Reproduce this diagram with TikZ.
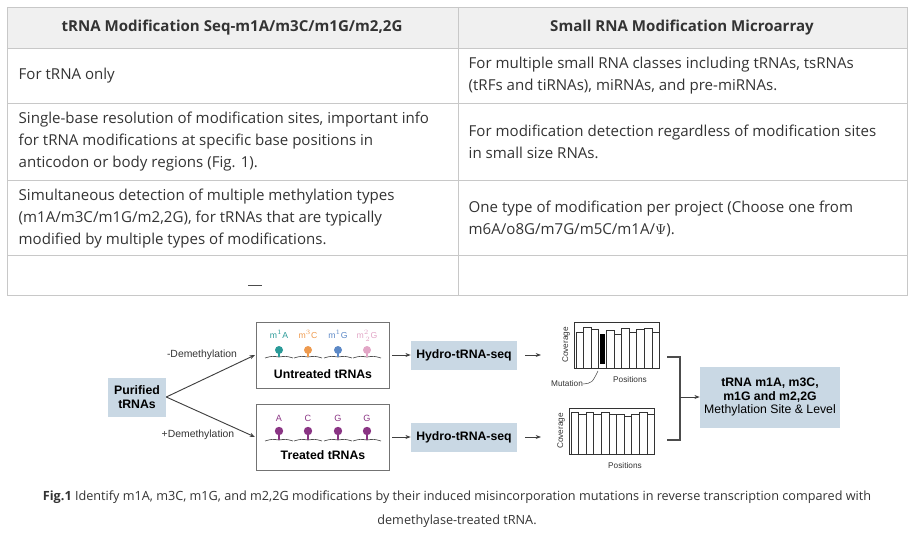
\documentclass[tikz,border=0pt]{standalone}
\usepackage{fontspec}
\setmainfont{Open Sans}
\newfontfamily\figfont{Liberation Sans}
\usetikzlibrary{arrows.meta}
\definecolor{gridc}{HTML}{C8C8C8}
\definecolor{headbg}{HTML}{F0F0F0}
\definecolor{boxbg}{HTML}{C9D8E4}
\definecolor{txt}{HTML}{333333}
\definecolor{cA}{HTML}{2A9A98}
\definecolor{cC}{HTML}{EE9A4E}
\definecolor{cG}{HTML}{5C88C6}
\definecolor{cGG}{HTML}{E2A6C6}
\definecolor{cT}{HTML}{8A3584}
\begin{document}
\begin{tikzpicture}[x=0.75pt,y=-0.75pt,
  cell/.style={anchor=west,align=left,text=txt,font=\fontsize{11.3}{16.5}\selectfont},
  head/.style={text=txt,font=\bfseries\fontsize{11.3}{16.5}\selectfont},
  fbox/.style={fill=boxbg,text=black,font=\figfont\bfseries\fontsize{9.2}{10.5}\selectfont,align=center,inner sep=0pt},
  lbl/.style={text=black!80,font=\figfont\fontsize{7.8}{9}\selectfont},
  tiny/.style={text=black!80,font=\figfont\fontsize{6.2}{7}\selectfont},
  arr/.style={-{Stealth[length=4pt]},black!75,line width=0.7pt}]
\useasboundingbox (0,0) rectangle (915,535);
% table
\fill[headbg] (7,7) rectangle (907,48);
\draw[gridc] (7,7) rectangle (907,295);
\foreach \y in {48,103,180,255} \draw[gridc] (7,\y) -- (907,\y);
\draw[gridc] (458,7) -- (458,295);
\node[head] (h1) at (232,28) {tRNA Modification Seq-m1A/m3C/m1G/m2,2G};
\node[head] (h2) at (682,28) {Small RNA Modification Microarray};
\node[cell] (a1) at (14,76) {For tRNA only};
\node[cell] (b1) at (464,76) {For multiple small RNA classes including tRNAs, tsRNAs\\(tRFs and tiRNAs), miRNAs, and pre-miRNAs.};
\node[cell] (a2) at (14,142) {Single-base resolution of modification sites, important info\\for tRNA modifications at specific base positions in\\anticodon or body regions (Fig. 1).};
\node[cell] (b2) at (464,142) {For modification detection regardless of modification sites\\in small size RNAs.};
\node[cell] (a3) at (14,219) {Simultaneous detection of multiple methylation types\\(m1A/m3C/m1G/m2,2G), for tRNAs that are typically\\modified by multiple types of modifications.};
\node[cell] (b3) at (464,219) {One type of modification per project (Choose one from\\m6A/o8G/m7G/m5C/m1A/$\Psi$).};
\draw[black!70] (248,285) -- (262,285);
% figure
\node[fbox,minimum width=58*0.75pt,minimum height=39*0.75pt] (pur) at (137,397) {Purified\\tRNAs};
\node[draw=black!55,minimum width=133*0.75pt,minimum height=66*0.75pt,inner sep=0pt] (unt) at (323,355) {};
\node[draw=black!55,minimum width=133*0.75pt,minimum height=66*0.75pt,inner sep=0pt] (trt) at (323,437) {};
\coordinate (u) at (255,355);
\coordinate (t) at (255,437);
\draw[arr] (pur.east) -- (u);
\draw[arr] (pur.east) -- (t);
\node[lbl] (dm) at (202,355) {-Demethylation};
\node[lbl] (pm) at (198,435) {+Demethylation};
% lollipops
\foreach \x/\c/\t [count=\i] in {279/cA/m$^1$A,308/cC/m$^3$C,338/cG/m$^1$G,367/cGG/m$^2_{\,2}$G}{
  \draw[black!70,line width=0.5pt] (\x-14,358) .. controls (\x-7,356) .. (\x,357) .. controls (\x+7,356) .. (\x+14,358);
  \draw[\c,line width=0.8pt] (\x,357) -- (\x,351);
  \fill[\c] (\x,350) circle (4);
  \node[font=\figfont\fontsize{6.5}{7}\selectfont,text=\c,anchor=base,inner ysep=0pt] (ul\i) at (\x,338) {\t};
}
\foreach \x/\t [count=\i] in {279/A,308/C,338/G,367/G}{
  \draw[black!70,line width=0.5pt] (\x-14,441) .. controls (\x-7,439) .. (\x,440) .. controls (\x+7,439) .. (\x+14,441);
  \draw[cT,line width=0.8pt] (\x,440) -- (\x,431);
  \fill[cT] (\x,431) circle (4.2);
  \node[font=\figfont\fontsize{6.8}{7}\selectfont,text=cT] (tl\i) at (\x,418) {\t};
}
\node[font=\figfont\bfseries\fontsize{9.2}{10}\selectfont] (untl) at (323,374) {Untreated tRNAs};
\node[font=\figfont\bfseries\fontsize{9.2}{10}\selectfont] (trtl) at (323,455) {Treated tRNAs};
\node[fbox,minimum width=106*0.75pt,minimum height=29*0.75pt] (hy1) at (464,355) {Hydro-tRNA-seq};
\node[fbox,minimum width=106*0.75pt,minimum height=29*0.75pt] (hy2) at (464,437) {Hydro-tRNA-seq};
\draw[arr] (392,355) -- (hy1.west);
\draw[arr] (392,437) -- (hy2.west);
% charts
\node[draw=black!80,minimum width=85*0.75pt,minimum height=46*0.75pt,inner sep=0pt,line width=0.7pt] (ch1) at (617,345) {};
\node[draw=black!80,minimum width=85*0.75pt,minimum height=46*0.75pt,inner sep=0pt,line width=0.7pt] (ch2) at (612,431) {};
\draw[arr] (525,355) -- (541,355);
\draw[arr] (525,437) -- (541,437);
\foreach \h [count=\i] in {7,2,4,0,5,9,3,7,4,3,7}{
  \pgfmathsetmacro\xx{576+(\i-1)*7.6}
  \ifnum\i=4
    \fill[black] (\xx+1,334) rectangle (\xx+6.6,364);
  \else
    \draw[black!80,line width=0.6pt] (\xx,368) -- (\xx,325+\h) -- (\xx+7.6,325+\h) -- (\xx+7.6,368);
  \fi
}
\foreach \h [count=\i] in {5,9,4,9,5,9,9,12,9,5,9}{
  \pgfmathsetmacro\xx{571+(\i-1)*7.6}
  \draw[black!80,line width=0.6pt] (\xx,455) -- (\xx,410+\h/2) -- (\xx+7.6,410+\h/2) -- (\xx+7.6,455);
}
\node[tiny,rotate=90] (cv1) at (566,345) {Coverage};
\node[tiny,rotate=90] (cv2) at (561,431) {Coverage};
\node[tiny] (mut) at (567,384) {Mutation};
\draw[black!70,line width=0.4pt] (583,384) .. controls (592,383) .. (598,371);
\node[tiny] (po1) at (630,380) {Positions};
\node[tiny] (po2) at (625,466) {Positions};
% merge
\coordinate (m) at (680,397);
\draw[black!70,line width=0.8pt] (667,357) -- (680,357) -- (680,440) -- (667,440);
\node[fbox,minimum width=140*0.75pt,minimum height=61*0.75pt] (res) at (770,397)
  {tRNA m1A, m3C,\\m1G and m2,2G\\[-1pt]{\mdseries Methylation Site \& Level}};
\draw[arr] (m) -- (res.west);
% caption
\node[font=\fontsize{9.5}{18}\selectfont,text=txt,align=center] (cap) at (457,509)
  {\textbf{Fig.1} Identify m1A, m3C, m1G, and m2,2G modifications by their induced misincorporation mutations in reverse transcription compared with\\demethylase-treated tRNA.};
\end{tikzpicture}
\end{document}
